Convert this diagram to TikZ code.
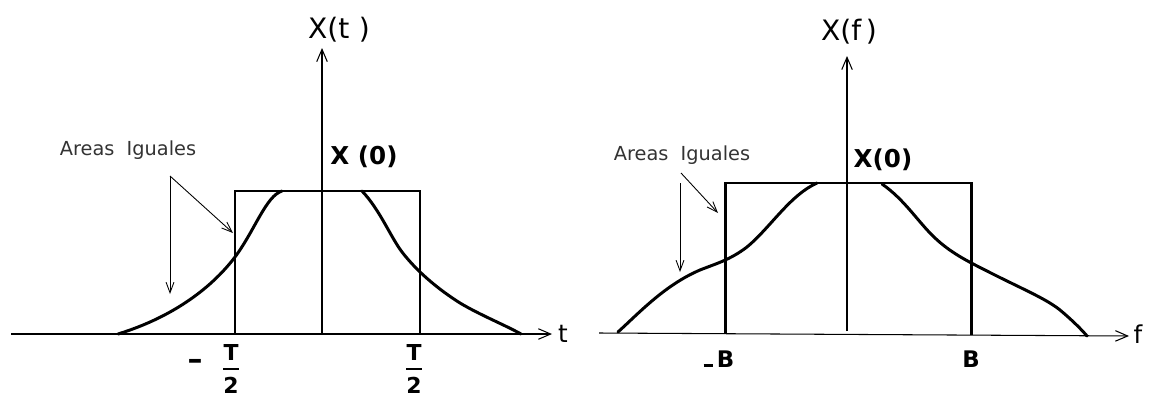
\documentclass[tikz,border=0pt]{standalone}
\usepackage{amsmath}
\usepackage{fontspec}
\setmainfont{DejaVu Sans}
\usetikzlibrary{arrows.meta}
\begin{document}
\begin{tikzpicture}[x=0.02cm,y=-0.02cm,
  axis/.style={line width=0.6pt,-{Straight Barb[length=7pt,width=6pt]}},
  boldline/.style={line width=1.7pt,line join=miter},
  curveline/.style={line width=1.7pt,line cap=round,line join=round},
  note/.style={line width=0.5pt,-{Straight Barb[length=6pt,width=4.5pt]}},
  axlbl/.style={inner sep=0pt,font=\fontsize{16}{18}\selectfont},
  varlbl/.style={inner sep=0pt,font=\fontsize{14}{16}\selectfont},
  vlbl/.style={inner sep=0pt,font=\fontsize{14}{16}\selectfont\bfseries},
  notelbl/.style={inner sep=0pt,text=black!80,font=\fontsize{11}{13}\selectfont},
  ticklbl/.style={inner sep=0pt,font=\fontsize{12.5}{14}\selectfont\bfseries},
  dashlbl/.style={inner sep=0pt,font=\fontsize{17}{18}\selectfont\bfseries},
  blbl/.style={inner sep=0pt,font=\fontsize{13}{15}\selectfont\bfseries}
]
\useasboundingbox (0,0) rectangle (1150,399);

% ---------- left panel ----------
\coordinate (tA) at (11,334);
\coordinate (tB) at (552,334);
\draw[axis] (tA) -- (tB);
\node[varlbl] (tl) at (563,334) {t};
\coordinate (yA) at (322,334);
\coordinate (yB) at (322,48);
\draw[axis] (yA) -- (yB);
\node[axlbl] (xt) at (339,30) {X(t\,\,)};
\draw[boldline] (235,334) -- (235,191) -- (420,191) -- (420,334);
\draw[curveline] (118,334) .. controls (170,318) and (210,290) .. (235,257)
  .. controls (255,230) and (266,196) .. (282,191);
\draw[curveline] (362,191) .. controls (380,210) and (390,236) .. (402,252)
  .. controls (412,265) and (430,284) .. (460,303)
  .. controls (480,315) and (505,325) .. (521,334);
\node[vlbl] (x0l) at (364,157) {X (0)};
\node[notelbl] (arl) at (128,150) {Areas\ \ Iguales};
\coordinate (aL) at (170,176);
\coordinate (aLd) at (170,294);
\coordinate (aLr) at (233,233);
\draw[note] (aL) -- (aLd);
\draw[note] (aL) -- (aLr);
\node[dashlbl] (mtl) at (195,364) {–};
\node[ticklbl] (ftl) at (231,369) {$\genfrac{}{}{1.3pt}{0}{\mbox{\bfseries T}}{\mbox{\bfseries 2}}$};
\node[ticklbl] (ftr) at (414,369) {$\genfrac{}{}{1.3pt}{0}{\mbox{\bfseries T}}{\mbox{\bfseries 2}}$};

% ---------- right panel ----------
\coordinate (fA) at (599,333);
\coordinate (fB) at (1129,336);
\draw[axis] (fA) -- (fB);
\node[varlbl] (fl) at (1138,334) {f};
\coordinate (vA) at (847,331);
\coordinate (vB) at (847,56);
\draw[axis] (vA) -- (vB);
\node[axlbl] (xf) at (849,32) {X(f\,)};
\draw[boldline] (725,334) -- (725,183) -- (971,183) -- (971,335);
\draw[curveline] (618,332) .. controls (640,312) and (665,285) .. (700,270)
  .. controls (715,264) and (730,260) .. (747,247)
  .. controls (770,228) and (790,195) .. (817,183);
\draw[curveline] (882,184) .. controls (905,200) and (918,222) .. (935,238)
  .. controls (950,252) and (965,260) .. (985,270)
  .. controls (1020,288) and (1045,298) .. (1060,310)
  .. controls (1072,320) and (1082,330) .. (1087,336);
\node[vlbl] (x0r) at (883,160) {X(0)};
\node[notelbl] (arr) at (682,155) {Areas\ \ Iguales};
\coordinate (bL) at (680,183);
\coordinate (bLd) at (680,272);
\coordinate (bT) at (681,173);
\coordinate (bLr) at (718,213);
\draw[note] (bL) -- (bLd);
\draw[note] (bT) -- (bLr);
\node[blbl,anchor=base] (mb) at (719,367) {\rule{5.5pt}{1.6pt}\hspace{2pt}B};
\node[blbl,anchor=base] (pb) at (971,367) {B};
\end{tikzpicture}
\end{document}
